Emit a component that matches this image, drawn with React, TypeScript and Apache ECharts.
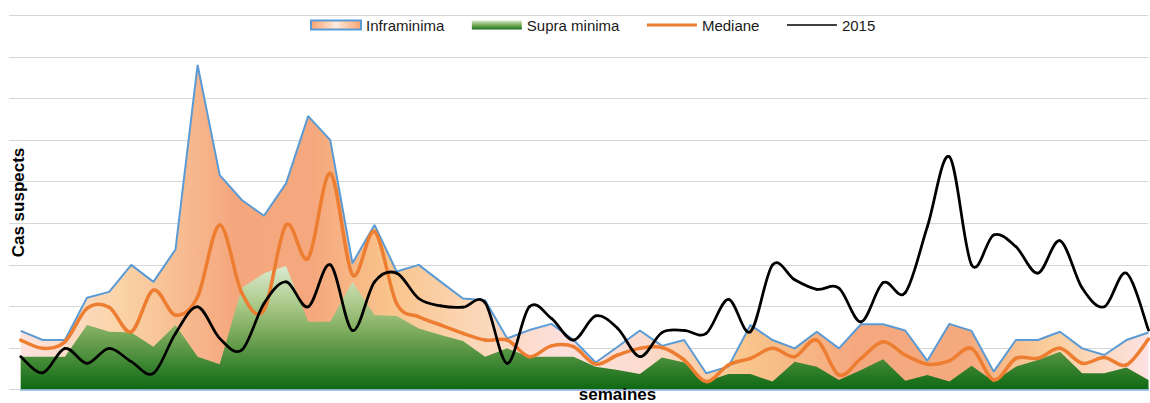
import React, { useEffect, useRef } from 'react';
import * as echarts from 'echarts';

// Semaines 1..52
const weeks = [
  1, 2, 3, 4, 5, 6, 7, 8, 9, 10, 11, 12, 13, 14, 15, 16, 17, 18, 19, 20, 21, 22, 23, 24, 25, 26,
  27, 28, 29, 30, 31, 32, 33, 34, 35, 36, 37, 38, 39, 40, 41, 42, 43, 44, 45, 46, 47, 48, 49, 50, 51, 52,
];

const inframinima = [
  14.1, 11.9, 11.9, 22.1, 23.5, 30.0, 25.9, 33.7, 78.1, 51.6, 45.6, 41.8, 49.6, 65.8, 60.0, 30.4, 39.6,
  28.4, 30.0, 25.9, 21.9, 21.5, 12.3, 14.3, 15.8, 11.9, 6.5, 10.3, 14.2, 10.5, 11.9, 3.9, 5.5, 15.5,
  11.9, 9.9, 13.9, 9.9, 15.7, 15.7, 14.2, 6.9, 15.8, 14.1, 4.3, 11.9, 11.9, 13.9, 9.9, 8.3, 11.9, 13.7,
];

const supraMinima = [
  7.9, 7.9, 7.9, 15.5, 13.9, 13.7, 10.3, 15.5, 7.9, 6.1, 24.4, 28.0, 29.7, 16.3, 16.3, 25.9, 17.9,
  17.7, 14.7, 13.1, 11.7, 7.9, 9.9, 7.9, 7.9, 7.9, 5.5, 4.7, 3.7, 7.7, 6.5, 1.9, 3.7, 3.7, 1.9, 6.7,
  5.5, 2.3, 4.7, 7.3, 2.1, 3.5, 1.9, 5.7, 1.9, 5.5, 7.1, 9.1, 3.9, 3.9, 5.3, 2.3,
];

const mediane = [
  11.9, 9.9, 11.5, 19.5, 19.8, 13.9, 23.9, 17.9, 22.3, 39.6, 23.2, 19.1, 39.6, 31.6, 52.0, 27.6, 38.0,
  20.7, 17.5, 15.5, 13.5, 11.9, 11.9, 7.9, 10.5, 10.3, 6.1, 8.3, 9.9, 10.1, 7.1, 1.9, 5.9, 7.5, 9.9,
  7.9, 11.9, 3.5, 7.5, 11.5, 8.3, 6.1, 6.9, 9.9, 2.3, 7.5, 7.5, 9.9, 6.3, 7.7, 5.9, 12.1,
];

const cas2015 = [
  7.9, 4.0, 9.9, 6.3, 9.9, 6.7, 3.9, 13.5, 19.9, 12.3, 9.5, 20.7, 25.9, 19.9, 30.0, 14.2, 25.9, 28.0,
  21.9, 20.1, 19.8, 20.9, 6.3, 19.9, 17.1, 11.9, 17.7, 14.7, 7.9, 13.7, 14.2, 13.5, 21.7, 13.9, 30.0,
  26.4, 24.1, 24.4, 16.3, 25.7, 23.3, 39.2, 56.0, 30.0, 37.2, 34.4, 28.0, 35.8, 24.4, 19.9, 28.0, 14.3,
];

const seriesNames = ['Inframinima', 'Supra minima', 'Mediane', '2015'];
const yMin = 0;
const yMax = 90;
const yInterval = 10;

const FONT = "'Liberation Sans', Arial, Helvetica, sans-serif";

// Excel-like smoothed line: one cubic Bezier segment per interval (Catmull-Rom tangents),
// every point placed through the chart's own axes with api.coord.
function smoothLineSeries(name: string, values: number[], color: string, width: number, z: number) {
  const n = values.length;
  return {
    name,
    type: 'custom',
    z,
    data: values.map((v, k) => [k, v]),
    encode: { x: 0, y: 1 },
    itemStyle: { color },
    renderItem: (params: any, api: any) => {
      const i = params.dataIndex;
      if (i >= n - 1) return null;
      const pt = (k: number) => {
        const kk = Math.max(0, Math.min(n - 1, k));
        return api.coord([kk, values[kk]]);
      };
      const p0 = pt(i - 1);
      const p1 = pt(i);
      const p2 = pt(i + 1);
      const p3 = pt(i + 2);
      const t = 1 / 6;
      return {
        type: 'bezierCurve',
        shape: {
          x1: p1[0],
          y1: p1[1],
          x2: p2[0],
          y2: p2[1],
          cpx1: p1[0] + (p2[0] - p0[0]) * t,
          cpy1: p1[1] + (p2[1] - p0[1]) * t,
          cpx2: p2[0] - (p3[0] - p1[0]) * t,
          cpy2: p2[1] - (p3[1] - p1[1]) * t,
        },
        style: { stroke: color, lineWidth: width, fill: null, lineCap: 'round' },
        silent: true,
      };
    },
  };
}

export default function App() {
  const ref = useRef<HTMLDivElement>(null);

  useEffect(() => {
    if (!ref.current) return;
    const chart = echarts.init(ref.current, null, { renderer: 'svg' });

    const infraFill = new echarts.graphic.LinearGradient(0, 0, 1, 0, [
      { offset: 0, color: '#fde2df' },
      { offset: 0.09, color: '#fad3a6' },
      { offset: 0.19, color: '#f5a67d' },
      { offset: 0.26, color: '#f5a87d' },
      { offset: 0.33, color: '#f9c58d' },
      { offset: 0.4, color: '#fbd6b6' },
      { offset: 0.48, color: '#fde0dc' },
      { offset: 0.55, color: '#fcdcd0' },
      { offset: 0.64, color: '#f9c68c' },
      { offset: 0.74, color: '#f5a87e' },
      { offset: 0.84, color: '#f5aa7e' },
      { offset: 0.91, color: '#f9cd9a' },
      { offset: 1, color: '#fde2e2' },
    ]);
    const greenFill = new echarts.graphic.LinearGradient(0, 0, 0, 1, [
      { offset: 0, color: '#dbead0' },
      { offset: 0.28, color: '#b0cd90' },
      { offset: 0.52, color: '#80ad5f' },
      { offset: 0.74, color: '#4a8e3b' },
      { offset: 1, color: '#0e6813' },
    ]);
    const legendInfra = new echarts.graphic.LinearGradient(0, 0, 1, 0, [
      { offset: 0, color: '#f6a46f' },
      { offset: 0.5, color: '#feeade' },
      { offset: 1, color: '#f6a46f' },
    ]);
    const legendGreen = new echarts.graphic.LinearGradient(0, 0, 0, 1, [
      { offset: 0, color: '#d8e8cc' },
      { offset: 0.5, color: '#7aab5a' },
      { offset: 1, color: '#16701a' },
    ]);

    const option: any = {
      animation: false,
      backgroundColor: '#ffffff',
      grid: { left: 20.7, right: 1.5, top: 15.5, bottom: 13.5, containLabel: false },
      legend: {
        left: 310,
        top: 17.5,
        padding: 0,
        itemWidth: 50,
        itemHeight: 9,
        itemGap: 27.5,
        textStyle: { fontFamily: FONT, fontSize: 15, color: '#1a1a1a' },
        data: [
          {
            name: seriesNames[0],
            icon: 'rect',
            itemStyle: { color: legendInfra, borderColor: '#5B9BD5', borderWidth: 2 },
          },
          { name: seriesNames[1], icon: 'rect', itemStyle: { color: legendGreen, borderWidth: 0 } },
          { name: seriesNames[2], icon: 'path://M0,0h50v3h-50z', itemStyle: { color: '#ED7D31' } },
          { name: seriesNames[3], icon: 'path://M0,0h50v1.6h-50z', itemStyle: { color: '#000000' } },
        ],
      },
      xAxis: {
        type: 'category',
        data: weeks,
        boundaryGap: false,
        z: 3,
        axisLine: { show: true, lineStyle: { color: '#86aedb', width: 1.5 } },
        axisTick: { show: false },
        axisLabel: { show: false },
        splitLine: { show: false },
      },
      yAxis: {
        type: 'value',
        min: yMin,
        max: yMax,
        interval: yInterval,
        name: 'Cas suspects',
        nameLocation: 'middle',
        nameGap: -6,
        nameTextStyle: { fontFamily: FONT, fontSize: 17, fontWeight: 'bold', color: '#000' },
        axisLine: { show: false },
        axisTick: { show: true, length: 11.5, lineStyle: { color: '#d6d6d6', width: 1 } },
        axisLabel: { show: false },
        splitLine: { show: true, lineStyle: { color: '#d6d6d6', width: 1 } },
      },
      graphic: [
        {
          type: 'text',
          x: 617.5,
          y: 394.5,
          z: 10,
          style: {
            text: 'semaines',
            fontFamily: FONT,
            fontSize: 17,
            fontWeight: 'bold',
            fill: '#000',
            align: 'center',
            verticalAlign: 'middle',
          },
        },
      ],
      series: [
        {
          name: seriesNames[0],
          type: 'line',
          data: inframinima,
          symbol: 'none',
          smooth: false,
          z: 2,
          itemStyle: { color: '#5B9BD5' },
          lineStyle: { color: '#5B9BD5', width: 2 },
          areaStyle: { color: infraFill, opacity: 1 },
        },
        {
          name: seriesNames[1],
          type: 'line',
          data: supraMinima,
          symbol: 'none',
          smooth: false,
          z: 3,
          itemStyle: { color: '#2e7d32' },
          lineStyle: { width: 0, opacity: 0 },
          areaStyle: { color: greenFill, opacity: 1 },
        },
        smoothLineSeries(seriesNames[2], mediane, '#ED7D31', 3.5, 4),
        smoothLineSeries(seriesNames[3], cas2015, '#000000', 2.75, 5),
      ],
    };

    chart.setOption(option);
    return () => chart.dispose();
  }, []);

  return (
    <div
      ref={ref}
      style={{ position: 'fixed', left: 0, top: 0, width: 1150, height: 403, background: '#fff' }}
    />
  );
}
